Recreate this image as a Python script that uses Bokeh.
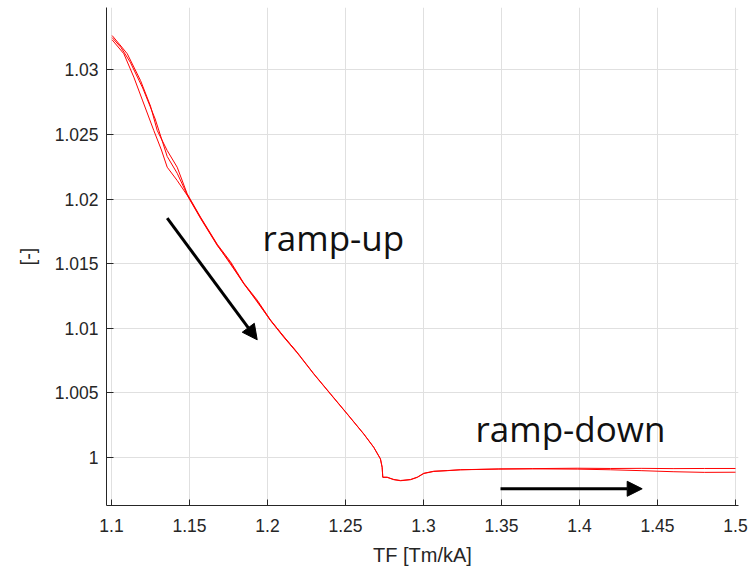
from bokeh.plotting import figure
from bokeh.models import FixedTicker, Arrow, NormalHead, Range1d
from bokeh.core.properties import value
from bokeh.embed import file_html
from bokeh.resources import INLINE

# ---- data ----
x_ticks = [1.1, 1.15, 1.2, 1.25, 1.3, 1.35, 1.4, 1.45, 1.5]
x_tick_labels = ["1.1", "1.15", "1.2", "1.25", "1.3", "1.35", "1.4", "1.45", "1.5"]
y_ticks = [1.0, 1.005, 1.01, 1.015, 1.02, 1.025, 1.03]
y_tick_labels = ["1", "1.005", "1.01", "1.015", "1.02", "1.025", "1.03"]

trace1_x = [1.1004, 1.1050, 1.1101, 1.1186, 1.1250, 1.1293, 1.1357, 1.1421, 1.1485,
            1.1571, 1.1678, 1.1763, 1.1848, 1.1934, 1.2019, 1.2104, 1.2190, 1.2297,
            1.2404, 1.2511, 1.2617, 1.2681, 1.2724, 1.2735, 1.2739, 1.2767, 1.2790,
            1.2810, 1.2853, 1.2917, 1.2960, 1.3002, 1.3066, 1.3152, 1.3237, 1.3483,
            1.3700, 1.3985, 1.4200, 1.4400, 1.4600, 1.4800, 1.5000]
trace1_y = [1.03266, 1.03200, 1.03125, 1.02918, 1.02720, 1.02531, 1.02376, 1.02247, 1.02041,
            1.01860, 1.01650, 1.01515, 1.01350, 1.01218, 1.01065, 1.00935, 1.00815, 1.00648,
            1.00493, 1.00338, 1.00183, 1.00080, 0.99990, 0.99925, 0.99848, 0.99848, 0.99838,
            0.99830, 0.99822, 0.99830, 0.99848, 0.99878, 0.99894, 0.99899, 0.99905, 0.99912,
            0.99914, 0.99917, 0.99915, 0.99916, 0.99914, 0.99915, 0.99915]

trace2_x = [1.1004, 1.1079, 1.1143, 1.1200, 1.1271, 1.1320, 1.1357, 1.1421, 1.1485,
            1.1571, 1.1678, 1.1763, 1.1848, 1.1934, 1.2019, 1.2104, 1.2190, 1.2297,
            1.2404, 1.2511, 1.2617, 1.2681, 1.2724, 1.2735, 1.2739, 1.2767, 1.2810,
            1.2853, 1.2917, 1.2960, 1.3002, 1.3066, 1.3152, 1.3237, 1.3483, 1.3700,
            1.3985, 1.4200, 1.4400, 1.4600, 1.4800, 1.5000]
trace2_y = [1.03233, 1.03125, 1.02944, 1.02760, 1.02531, 1.02380, 1.02247, 1.02144, 1.02030,
            1.01850, 1.01641, 1.01505, 1.01344, 1.01210, 1.01060, 1.00931, 1.00810, 1.00645,
            1.00490, 1.00336, 1.00181, 1.00078, 0.99988, 0.99922, 0.99846, 0.99846, 0.99828,
            0.99820, 0.99828, 0.99846, 0.99876, 0.99892, 0.99898, 0.99905, 0.99910, 0.99912,
            0.99910, 0.99905, 0.99898, 0.99890, 0.99885, 0.99886]

trace3_x = [1.1004, 1.1060, 1.1120, 1.1200, 1.1280, 1.1357, 1.1421, 1.1485, 1.1571,
            1.1678, 1.1848, 1.2019, 1.2190]
trace3_y = [1.03250, 1.03175, 1.03060, 1.02860, 1.02620, 1.02330, 1.02200, 1.02035, 1.01855,
            1.01645, 1.01347, 1.01062, 1.00812]

# ---- figure ----
FONT = "Liberation Sans"
TXT = "#262626"

p = figure(width=750, height=569, output_backend="svg", toolbar_location=None,
           x_range=Range1d(1.09679, 1.50192), y_range=Range1d(0.996285, 1.03483),
           min_border_left=106, min_border_right=12, min_border_top=7, min_border_bottom=64)
p.outline_line_color = None
p.background_fill_color = "white"
p.border_fill_color = "white"

for ax in (p.xaxis[0], p.yaxis[0]):
    ax.axis_line_color = TXT
    ax.axis_line_width = 1
    ax.major_tick_line_color = TXT
    ax.major_tick_out = 0
    ax.minor_tick_line_color = None
    ax.major_label_text_font = FONT
    ax.major_label_text_font_size = "17.5px"
    ax.major_label_text_color = TXT
    ax.axis_label_text_font = FONT
    ax.axis_label_text_font_size = "20px"
    ax.axis_label_text_color = TXT
    ax.axis_label_text_font_style = "normal"

p.xaxis.ticker = FixedTicker(ticks=x_ticks)
p.xaxis.major_label_overrides = {t: l for t, l in zip(x_ticks, x_tick_labels)}
p.yaxis.ticker = FixedTicker(ticks=y_ticks)
p.yaxis.major_label_overrides = {t: l for t, l in zip(y_ticks, y_tick_labels)}
p.xaxis.major_tick_in = 6
p.yaxis.major_tick_in = 7
p.xaxis.major_label_standoff = 13
p.yaxis.major_label_standoff = 8
p.xaxis.axis_label = "TF [Tm/kA]"
p.yaxis.axis_label = "[-]"
p.xaxis.axis_label_standoff = 9
p.yaxis.axis_label_standoff = 13

p.xgrid.grid_line_color = "#e0e0e0"
p.ygrid.grid_line_color = "#e0e0e0"
p.xgrid.ticker = FixedTicker(ticks=x_ticks)
p.ygrid.ticker = FixedTicker(ticks=y_ticks)

p.line(trace1_x, trace1_y, line_color="#ff0000", line_width=1)
p.line(trace2_x, trace2_y, line_color="#ff0000", line_width=1)
p.line(trace3_x, trace3_y, line_color="#ff0000", line_width=1)

p.text(x=[1.19679], y=[1.01703], text=["ramp-up"], text_font=value("Open Sans"),
       text_font_size="35px", text_color="#111111", text_baseline="alphabetic")
p.text(x=[1.33333], y=[1.00224], text=["ramp-down"], text_font=value("Open Sans"),
       text_font_size="35px", text_color="#111111", text_baseline="alphabetic")

p.add_layout(Arrow(x_start=1.13571, y_start=1.01852, x_end=1.19340, y_end=1.00911,
                   line_width=3, line_color="black",
                   end=NormalHead(size=15, fill_color="black", line_color="black")))
p.add_layout(Arrow(x_start=1.34936, y_start=0.99758, x_end=1.44019, y_end=0.99758,
                   line_width=3, line_color="black",
                   end=NormalHead(size=15, fill_color="black", line_color="black")))

open("out.html", "w").write(file_html(p, INLINE))
